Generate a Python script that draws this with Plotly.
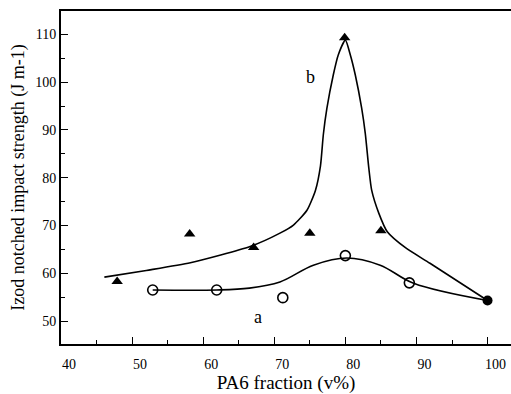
import plotly.graph_objects as go

# Measured points
tri_x = [47.9, 58.1, 67.1, 75.0, 85.0, 79.9]
tri_y = [58.3, 68.2, 65.4, 68.4, 68.9, 109.3]
circ_x = [52.9, 61.9, 71.2, 80.0, 89.0]
circ_y = [56.5, 56.5, 54.9, 63.7, 58.0]
end_x = [100.0]
end_y = [54.3]

# Traced smooth curves
curve_a_x = [52.9, 61.9, 66.5, 70.8, 75.5, 80.2, 84.9, 89.6, 100.0]
curve_a_y = [56.5, 56.5, 56.9, 58.2, 61.7, 63.2, 61.7, 57.9, 54.3]
curve_b_x = [46.1, 52.0, 58.2, 66.6, 70.8, 72.7, 74.6, 75.8, 76.5, 76.9, 77.4, 78.3, 79.0, 80.0,
             80.7, 81.4, 82.3, 82.8, 83.3, 83.7, 84.7, 85.9, 88.5, 91.9, 100.0]
curve_b_y = [59.2, 60.6, 62.2, 65.6, 68.4, 70.1, 73.2, 77.4, 82.5, 89.0, 94.5, 101.5, 105.7, 108.8,
             105.7, 101.5, 94.5, 89.3, 82.0, 77.4, 72.6, 68.7, 65.3, 62.1, 54.3]

x_ticks = [40, 50, 60, 70, 80, 90, 100]
y_ticks = [50, 60, 70, 80, 90, 100, 110]

font = "Times New Roman"

fig = go.Figure()
fig.add_trace(go.Scatter(x=curve_b_x, y=curve_b_y, mode="lines",
                         line=dict(color="black", width=1.6, shape="spline", smoothing=0.6),
                         showlegend=False, hoverinfo="skip"))
fig.add_trace(go.Scatter(x=curve_a_x, y=curve_a_y, mode="lines",
                         line=dict(color="black", width=1.6, shape="spline", smoothing=1.0),
                         showlegend=False, hoverinfo="skip"))
fig.add_trace(go.Scatter(x=tri_x, y=tri_y, mode="markers",
                         marker=dict(symbol="triangle-up", size=10, color="black"),
                         showlegend=False))
fig.add_trace(go.Scatter(x=circ_x, y=circ_y, mode="markers",
                         marker=dict(symbol="circle-open", size=10, color="black",
                                     line=dict(width=1.6, color="black")),
                         showlegend=False))
fig.add_trace(go.Scatter(x=end_x, y=end_y, mode="markers",
                         marker=dict(symbol="circle", size=10, color="black"),
                         showlegend=False))

fig.add_annotation(x=75.1, y=101.1, text="b", showarrow=False,
                   font=dict(family=font, size=18, color="black"))
fig.add_annotation(x=67.7, y=50.8, text="a", showarrow=False,
                   font=dict(family=font, size=18, color="black"))

fig.update_layout(
    width=511, height=394,
    margin=dict(l=61, r=0, t=11, b=50),
    plot_bgcolor="white", paper_bgcolor="white",
    font=dict(family=font, color="black", size=14),
    xaxis=dict(range=[40, 103.3], tickvals=x_ticks, ticks="inside", ticklen=7,
               tickwidth=1.3, tickcolor="black",
               minor=dict(dtick=5, tick0=0, ticks="inside", ticklen=4, tickcolor="black", tickwidth=1),
               showline=True, linecolor="black", linewidth=2, mirror=True,
               showgrid=False, zeroline=False,
               ticklabelshift=8, ticklabelstandoff=6,
               title=dict(text="PA6 fraction (v%)", font=dict(size=19), standoff=7)),
    yaxis=dict(range=[45.2, 114.9], tickvals=y_ticks, ticks="inside", ticklen=7,
               tickwidth=1.3, tickcolor="black",
               minor=dict(dtick=5, tick0=0, ticks="inside", ticklen=4, tickcolor="black", tickwidth=1),
               showline=True, linecolor="black", linewidth=2,
               showgrid=False, zeroline=False,
               title=dict(text="Izod notched impact strength (J m-1)", font=dict(size=18), standoff=6)),
)

fig.write_html("out.html")
